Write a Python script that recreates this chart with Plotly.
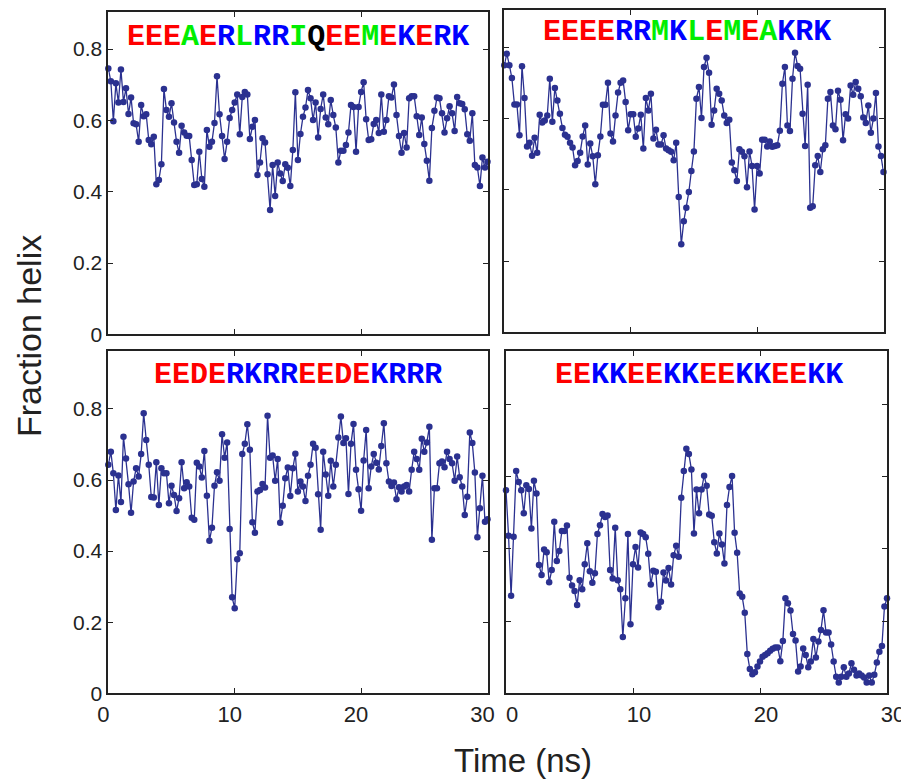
import plotly.graph_objects as go

# ---------------- data ----------------
time_ns = [round(0.2 * i, 1) for i in range(151)]

helix_tl = [0.746,0.710,0.598,0.704,0.650,0.743,0.652,0.690,0.618,0.664,
            0.592,0.589,0.540,0.643,0.612,0.617,0.545,0.533,0.554,0.421,
            0.433,0.477,0.688,0.629,0.610,0.648,0.594,0.540,0.509,0.585,
            0.566,0.557,0.556,0.489,0.419,0.421,0.512,0.436,0.414,0.573,
            0.526,0.540,0.593,0.724,0.617,0.556,0.492,0.540,0.607,0.629,
            0.650,0.673,0.561,0.666,0.680,0.673,0.548,0.582,0.601,0.447,
            0.482,0.550,0.538,0.449,0.349,0.475,0.388,0.482,0.451,0.430,
            0.477,0.467,0.416,0.517,0.679,0.489,0.562,0.610,0.636,0.685,
            0.662,0.601,0.650,0.552,0.632,0.673,0.608,0.589,0.657,0.615,
            0.580,0.482,0.515,0.515,0.531,0.566,0.643,0.638,0.512,0.638,
            0.680,0.707,0.603,0.545,0.547,0.590,0.601,0.565,0.673,0.568,
            0.601,0.668,0.664,0.701,0.615,0.556,0.509,0.565,0.524,0.662,
            0.668,0.668,0.612,0.559,0.608,0.534,0.487,0.431,0.579,0.627,
            0.664,0.662,0.620,0.566,0.606,0.640,0.620,0.570,0.666,0.648,
            0.646,0.631,0.561,0.543,0.620,0.475,0.468,0.416,0.496,0.468,
            0.484]

helix_tr = [0.750,0.782,0.750,0.714,0.640,0.640,0.553,0.747,0.658,0.522,
            0.532,0.496,0.546,0.504,0.611,0.589,0.595,0.609,0.712,0.591,
            0.686,0.651,0.614,0.574,0.555,0.549,0.532,0.519,0.469,0.481,
            0.504,0.550,0.581,0.471,0.530,0.494,0.416,0.497,0.550,0.639,
            0.639,0.701,0.558,0.536,0.609,0.673,0.701,0.707,0.647,0.567,
            0.612,0.612,0.549,0.572,0.611,0.516,0.658,0.623,0.670,0.544,
            0.569,0.527,0.527,0.553,0.516,0.511,0.507,0.483,0.532,0.380,
            0.247,0.312,0.350,0.394,0.453,0.508,0.656,0.689,0.602,0.745,
            0.771,0.729,0.583,0.623,0.684,0.670,0.651,0.609,0.588,0.597,
            0.477,0.455,0.425,0.514,0.507,0.494,0.407,0.508,0.467,0.345,
            0.467,0.446,0.541,0.541,0.522,0.536,0.521,0.523,0.525,0.566,
            0.698,0.745,0.581,0.565,0.712,0.785,0.748,0.740,0.614,0.523,
            0.695,0.350,0.354,0.469,0.495,0.450,0.514,0.525,0.656,0.675,
            0.581,0.570,0.678,0.653,0.539,0.612,0.600,0.693,0.667,0.703,
            0.684,0.663,0.603,0.588,0.637,0.560,0.600,0.672,0.522,0.495,
            0.450]

helix_bl = [0.643,0.680,0.619,0.516,0.613,0.538,0.722,0.661,0.588,0.508,
            0.596,0.633,0.610,0.673,0.788,0.713,0.643,0.552,0.551,0.650,
            0.530,0.633,0.619,0.619,0.535,0.584,0.558,0.513,0.549,0.650,
            0.577,0.594,0.582,0.494,0.488,0.649,0.638,0.607,0.682,0.556,
            0.429,0.466,0.584,0.622,0.598,0.729,0.663,0.706,0.462,0.270,
            0.239,0.377,0.394,0.673,0.702,0.757,0.685,0.481,0.452,0.568,
            0.572,0.589,0.579,0.781,0.663,0.669,0.598,0.659,0.480,0.528,
            0.605,0.635,0.555,0.633,0.674,0.568,0.596,0.582,0.541,0.612,
            0.643,0.702,0.691,0.560,0.460,0.680,0.616,0.556,0.654,0.582,
            0.643,0.720,0.779,0.704,0.718,0.561,0.702,0.758,0.629,0.574,
            0.514,0.655,0.741,0.577,0.638,0.673,0.649,0.630,0.696,0.760,
            0.647,0.596,0.583,0.593,0.546,0.580,0.568,0.582,0.586,0.568,
            0.629,0.680,0.659,0.629,0.716,0.680,0.706,0.750,0.432,0.577,
            0.577,0.647,0.652,0.636,0.680,0.659,0.647,0.598,0.666,0.608,
            0.582,0.502,0.553,0.734,0.704,0.621,0.439,0.521,0.612,0.483,
            0.490]

helix_br = [0.562,0.436,0.270,0.433,0.615,0.585,0.562,0.498,0.576,0.565,
            0.456,0.588,0.553,0.355,0.327,0.398,0.390,0.307,0.341,0.475,
            0.366,0.394,0.449,0.449,0.464,0.320,0.298,0.283,0.244,0.313,
            0.288,0.357,0.415,0.338,0.306,0.332,0.441,0.465,0.496,0.488,
            0.492,0.341,0.318,0.458,0.313,0.288,0.156,0.263,0.441,0.191,
            0.357,0.405,0.348,0.445,0.441,0.432,0.386,0.301,0.339,0.336,
            0.238,0.253,0.334,0.312,0.347,0.301,0.382,0.408,0.378,0.541,
            0.615,0.677,0.662,0.619,0.442,0.564,0.498,0.564,0.602,0.574,
            0.495,0.491,0.418,0.387,0.442,0.412,0.359,0.521,0.571,0.601,
            0.444,0.389,0.276,0.267,0.223,0.109,0.067,0.053,0.058,0.074,
            0.088,0.101,0.106,0.111,0.118,0.123,0.127,0.127,0.089,0.145,
            0.263,0.249,0.229,0.164,0.146,0.060,0.074,0.124,0.106,0.072,
            0.088,0.150,0.099,0.143,0.175,0.230,0.168,0.168,0.135,0.088,
            0.046,0.030,0.046,0.072,0.046,0.055,0.083,0.065,0.049,0.055,
            0.049,0.044,0.030,0.049,0.030,0.051,0.085,0.115,0.131,0.240,
            0.263]

sequences = ["EEEAERLRRIQEEMEKERK", "EEEERRMKLEMEAKRK",
             "EEDERKRREEDEKRRR", "EEKKEEKKEEKKEEKK"]

x_ticks = [0, 10, 20, 30]
x_ticktext = ["0", "10", "20", "30"]
y_ticks = [0, 0.2, 0.4, 0.6, 0.8]
y_ticktext = ["0", "0.2", "0.4", "0.6", "0.8"]

residue_colors = {"E": "#ff0000", "D": "#ff0000",
                  "R": "#0000ff", "K": "#0000ff",
                  "A": "#00ee00", "L": "#00ee00", "I": "#00ee00", "M": "#00ee00",
                  "Q": "#000000"}

# ---------------- layout geometry ----------------
# The page body adds an 8 px margin, so positions measured on the screenshot
# are shifted back by that amount.
W, H = 909, 781
OFF = 8
def fx(px):
    return (px - OFF) / W
def fy(py):
    return (H - (py - OFF)) / H
def px_x(a, b):
    return [fx(a), fx(b)]
def px_y(top, bottom):
    return [fy(bottom), fy(top)]

panels = [
    dict(data=helix_tl, xd=px_x(108.3, 487.5), yd=px_y(11.7, 334.3), ymax=0.905,
         xlab=False, ylab=True, tx=297.5, ty=37, lshift=-5),
    dict(data=helix_tr, xd=px_x(504.3, 883.5), yd=px_y(10.0, 332.3), ymax=0.905,
         xlab=False, ylab=False, tx=686.5, ty=32, lshift=6),
    dict(data=helix_bl, xd=px_x(108.3, 487.5), yd=px_y(350.7, 693.3), ymax=0.964,
         xlab=True, ylab=True, tx=297.5, ty=375, lshift=-5),
    dict(data=helix_br, xd=px_x(506.0, 887.0), yd=px_y(350.7, 693.3), ymax=0.948,
         xlab=True, ylab=False, tx=699, ty=375, lshift=6),
]

line_color = "#2b3190"
font_sans = "Liberation Sans, Arial, Helvetica, sans-serif"

fig = go.Figure()
layout = dict(width=W, height=H, margin=dict(l=0, r=0, t=0, b=0, autoexpand=False),
              paper_bgcolor="white", plot_bgcolor="white", showlegend=False)
annotations = []

for k, p in enumerate(panels):
    n = "" if k == 0 else str(k + 1)
    fig.add_trace(go.Scatter(
        x=time_ns, y=p["data"], mode="lines+markers",
        line=dict(color=line_color, width=1.3),
        marker=dict(color=line_color, size=6.5),
        xaxis="x" + n, yaxis="y" + n, cliponaxis=False, hoverinfo="skip"))
    layout["xaxis" + n] = dict(
        domain=p["xd"], anchor="y" + n, range=[0, 30], automargin=False,
        tickvals=x_ticks, ticktext=x_ticktext, showticklabels=p["xlab"],
        ticklabelshift=p["lshift"],
        ticks="inside", ticklen=5, tickwidth=1, tickcolor="#222",
        showline=True, mirror="ticks", linecolor="#222", linewidth=1.8,
        showgrid=False, zeroline=False,
        tickfont=dict(family=font_sans, size=22, color="#222"))
    layout["yaxis" + n] = dict(
        domain=p["yd"], anchor="x" + n, range=[0, p["ymax"]], automargin=False,
        tickvals=y_ticks, ticktext=y_ticktext, showticklabels=p["ylab"],
        ticks="inside", ticklen=5, tickwidth=1, tickcolor="#222",
        showline=True, mirror="ticks", linecolor="#222", linewidth=1.8,
        showgrid=False, zeroline=False,
        tickfont=dict(family=font_sans, size=21, color="#222"))
    seq = sequences[k]
    text = "".join('<span style="color:%s">%s</span>' % (residue_colors[c], c) for c in seq)
    annotations.append(dict(
        text="<b>" + text + "</b>", xref="paper", yref="paper",
        x=fx(p["tx"]), y=fy(p["ty"]), xanchor="center", yanchor="middle",
        showarrow=False,
        font=dict(family="Liberation Mono, Courier New, monospace", size=30)))

annotations.append(dict(text="Fraction helix", xref="paper", yref="paper",
                        x=fx(29), y=fy(336), xanchor="center", yanchor="middle",
                        textangle=-90, showarrow=False,
                        font=dict(family=font_sans, size=34, color="#222")))
annotations.append(dict(text="Time (ns)", xref="paper", yref="paper",
                        x=fx(523), y=fy(760), xanchor="center", yanchor="middle",
                        showarrow=False,
                        font=dict(family=font_sans, size=33, color="#222")))
layout["annotations"] = annotations
fig.update_layout(**layout)

fig.write_html("out.html")
